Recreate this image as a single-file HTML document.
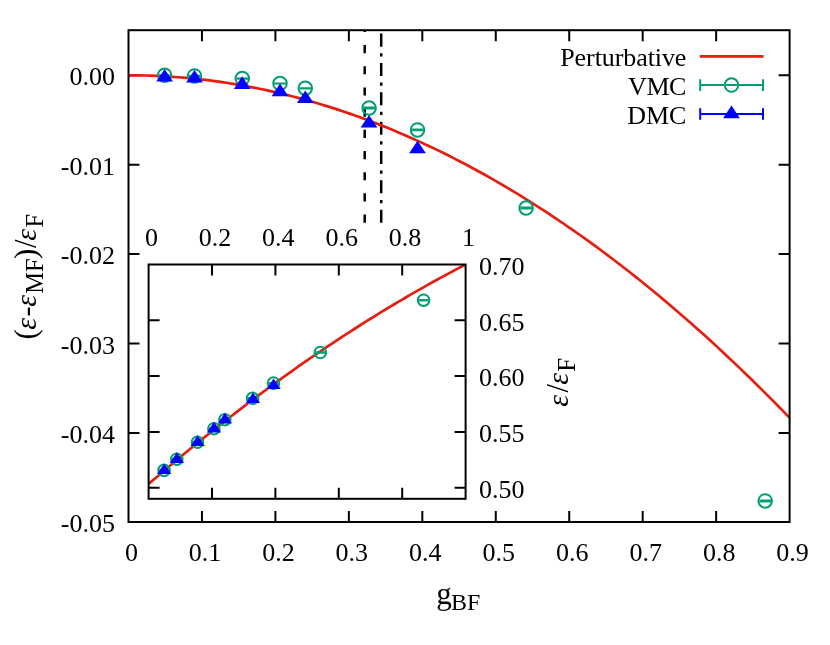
<!DOCTYPE html>
<html><head><meta charset="utf-8"><title>plot</title>
<style>html,body{margin:0;padding:0;background:#fff}svg{display:block;will-change:transform}text{font-family:"Liberation Serif",serif;fill:#000}</style></head>
<body>
<svg width="830" height="645" viewBox="0 0 830 645">
<rect width="830" height="645" fill="#fff"/>
<g stroke="#000" stroke-width="2" fill="none" stroke-linecap="butt">
<path d="M201.96 522.0 V511.0 M201.96 30.2 V41.2"/>
<path d="M275.41 522.0 V511.0 M275.41 30.2 V41.2"/>
<path d="M348.87 522.0 V511.0 M348.87 30.2 V41.2"/>
<path d="M422.32 522.0 V511.0 M422.32 30.2 V41.2"/>
<path d="M495.78 522.0 V511.0 M495.78 30.2 V41.2"/>
<path d="M569.23 522.0 V511.0 M569.23 30.2 V41.2"/>
<path d="M642.69 522.0 V511.0 M642.69 30.2 V41.2"/>
<path d="M716.14 522.0 V511.0 M716.14 30.2 V41.2"/>
<path d="M128.5 75.30 H139.5 M789.6 75.30 H778.6"/>
<path d="M128.5 164.70 H139.5 M789.6 164.70 H778.6"/>
<path d="M128.5 254.10 H139.5 M789.6 254.10 H778.6"/>
<path d="M128.5 343.50 H139.5 M789.6 343.50 H778.6"/>
<path d="M128.5 432.90 H139.5 M789.6 432.90 H778.6"/>
</g>
<g font-size="26" text-anchor="middle">
<text x="131.50" y="561">0</text>
<text x="204.96" y="561">0.1</text>
<text x="278.41" y="561">0.2</text>
<text x="351.87" y="561">0.3</text>
<text x="425.32" y="561">0.4</text>
<text x="498.78" y="561">0.5</text>
<text x="572.23" y="561">0.6</text>
<text x="645.69" y="561">0.7</text>
<text x="719.14" y="561">0.8</text>
<text x="792.60" y="561">0.9</text>
</g>
<g font-size="26" text-anchor="end">
<text x="115" y="85.30">0.00</text>
<text x="115" y="174.70">-0.01</text>
<text x="115" y="264.10">-0.02</text>
<text x="115" y="353.50">-0.03</text>
<text x="115" y="442.90">-0.04</text>
<text x="115" y="532.30">-0.05</text>
</g>
<path d="M364.7 222.7 V30.2" stroke="#000" stroke-width="2.5" stroke-dasharray="8.15 13.04" fill="none"/>
<path d="M381.2 222.7 V30.2" stroke="#000" stroke-width="2.5" stroke-dasharray="13.04 6.52 3.26 6.52" fill="none"/>
<path d="M128.50 75.30 L134.01 75.32 L139.52 75.40 L145.03 75.51 L150.54 75.68 L156.05 75.89 L161.56 76.16 L167.06 76.47 L172.57 76.82 L178.08 77.23 L183.59 77.68 L189.10 78.18 L194.61 78.73 L200.12 79.32 L205.63 79.96 L211.14 80.65 L216.65 81.39 L222.16 82.17 L227.66 83.01 L233.17 83.89 L238.68 84.81 L244.19 85.79 L249.70 86.81 L255.21 87.88 L260.72 89.00 L266.23 90.17 L271.74 91.38 L277.25 92.64 L282.76 93.95 L288.27 95.30 L293.77 96.71 L299.28 98.16 L304.79 99.66 L310.30 101.20 L315.81 102.80 L321.32 104.44 L326.83 106.13 L332.34 107.86 L337.85 109.65 L343.36 111.48 L348.87 113.36 L354.38 115.28 L359.89 117.26 L365.39 119.28 L370.90 121.35 L376.41 123.47 L381.92 125.63 L387.43 127.84 L392.94 130.10 L398.45 132.41 L403.96 134.76 L409.47 137.17 L414.98 139.62 L420.49 142.11 L426.00 144.66 L431.50 147.25 L437.01 149.89 L442.52 152.58 L448.03 155.32 L453.54 158.10 L459.05 160.93 L464.56 163.81 L470.07 166.73 L475.58 169.71 L481.09 172.73 L486.60 175.80 L492.11 178.91 L497.61 182.08 L503.12 185.29 L508.63 188.55 L514.14 191.85 L519.65 195.21 L525.16 198.61 L530.67 202.06 L536.18 205.55 L541.69 209.10 L547.20 212.69 L552.71 216.33 L558.22 220.01 L563.72 223.75 L569.23 227.53 L574.74 231.36 L580.25 235.24 L585.76 239.16 L591.27 243.13 L596.78 247.15 L602.29 251.22 L607.80 255.34 L613.31 259.50 L618.82 263.71 L624.33 267.97 L629.83 272.27 L635.34 276.62 L640.85 281.03 L646.36 285.47 L651.87 289.97 L657.38 294.51 L662.89 299.10 L668.40 303.74 L673.91 308.43 L679.42 313.16 L684.93 317.94 L690.44 322.77 L695.94 327.65 L701.45 332.57 L706.96 337.54 L712.47 342.56 L717.98 347.63 L723.49 352.74 L729.00 357.90 L734.51 363.11 L740.02 368.37 L745.53 373.67 L751.04 379.02 L756.55 384.42 L762.05 389.87 L767.56 395.36 L773.07 400.91 L778.58 406.50 L784.09 412.13 L789.60 417.82" stroke="#e51e10" stroke-width="2.7" fill="none" stroke-linejoin="round"/>
<g stroke="#009e73" stroke-width="2" fill="none"><path d="M158.80 75.20 H170.40 M158.80 75.40 H170.40 M164.60 75.20 V75.40"/><circle cx="164.60" cy="75.30" r="6.75"/></g>
<g stroke="#009e73" stroke-width="2" fill="none"><path d="M188.70 75.80 H200.30 M188.70 76.00 H200.30 M194.50 75.80 V76.00"/><circle cx="194.50" cy="75.90" r="6.75"/></g>
<g stroke="#009e73" stroke-width="2" fill="none"><path d="M236.50 78.50 H248.10 M236.50 78.70 H248.10 M242.30 78.50 V78.70"/><circle cx="242.30" cy="78.60" r="6.75"/></g>
<g stroke="#009e73" stroke-width="2" fill="none"><path d="M274.20 83.40 H285.80 M274.20 83.60 H285.80 M280.00 83.40 V83.60"/><circle cx="280.00" cy="83.50" r="6.75"/></g>
<g stroke="#009e73" stroke-width="2" fill="none"><path d="M299.50 88.20 H311.10 M299.50 88.40 H311.10 M305.30 88.20 V88.40"/><circle cx="305.30" cy="88.30" r="6.75"/></g>
<g stroke="#009e73" stroke-width="2" fill="none"><path d="M363.30 107.55 H374.90 M363.30 108.45 H374.90 M369.10 107.55 V108.45"/><circle cx="369.10" cy="108.00" r="6.75"/></g>
<g stroke="#009e73" stroke-width="2" fill="none"><path d="M411.70 129.45 H423.30 M411.70 130.35 H423.30 M417.50 129.45 V130.35"/><circle cx="417.50" cy="129.90" r="6.75"/></g>
<g stroke="#009e73" stroke-width="2" fill="none"><path d="M520.30 207.55 H531.90 M520.30 208.45 H531.90 M526.10 207.55 V208.45"/><circle cx="526.10" cy="208.00" r="6.75"/></g>
<g stroke="#009e73" stroke-width="2" fill="none"><path d="M759.40 500.40 H771.00 M759.40 501.40 H771.00 M765.20 500.40 V501.40"/><circle cx="765.20" cy="500.90" r="6.75"/></g>
<path d="M164.60 69.02 L156.22 81.62 L172.98 81.62 Z" fill="#0000ff"/>
<path d="M194.50 70.02 L186.12 82.62 L202.88 82.62 Z" fill="#0000ff"/>
<path d="M242.20 76.32 L233.82 88.92 L250.58 88.92 Z" fill="#0000ff"/>
<path d="M280.00 83.62 L271.62 96.22 L288.38 96.22 Z" fill="#0000ff"/>
<path d="M305.30 90.42 L296.92 103.02 L313.68 103.02 Z" fill="#0000ff"/>
<path d="M369.00 115.02 L360.62 127.62 L377.38 127.62 Z" fill="#0000ff"/>
<path d="M417.50 140.72 L409.12 153.32 L425.88 153.32 Z" fill="#0000ff"/>
<g font-size="26" text-anchor="end"><text x="686.4" y="66" textLength="126.2">Perturbative</text><text x="686.4" y="95" textLength="58.3">VMC</text><text x="686.4" y="124">DMC</text></g>
<path d="M699.8 56.3 H763.6" stroke="#e51e10" stroke-width="2.7" fill="none"/>
<g stroke="#009e73" stroke-width="2" fill="none"><path d="M700.2 85.1 H763 M700.2 79.3 V90.9 M763 79.3 V90.9"/><circle cx="731.5" cy="85.1" r="6.75"/></g>
<g stroke="#0000ff" stroke-width="2" fill="none"><path d="M700.2 114 H763 M700.2 108.2 V119.8 M763 108.2 V119.8"/></g>
<path d="M731.50 105.62 L723.12 118.22 L739.88 118.22 Z" fill="#0000ff"/>
<g stroke="#000" stroke-width="2" fill="none">
<path d="M212.00 498.8 V487.8 M212.00 264.5 V275.5"/>
<path d="M275.40 498.8 V487.8 M275.40 264.5 V275.5"/>
<path d="M338.80 498.8 V487.8 M338.80 264.5 V275.5"/>
<path d="M402.20 498.8 V487.8 M402.20 264.5 V275.5"/>
<path d="M148.6 487.70 H159.6 M465.6 487.70 H454.6"/>
<path d="M148.6 431.90 H159.6 M465.6 431.90 H454.6"/>
<path d="M148.6 376.10 H159.6 M465.6 376.10 H454.6"/>
<path d="M148.6 320.30 H159.6 M465.6 320.30 H454.6"/>
</g>
<g font-size="26" text-anchor="middle">
<text x="151.50" y="245.6">0</text>
<text x="214.90" y="245.6">0.2</text>
<text x="278.30" y="245.6">0.4</text>
<text x="341.70" y="245.6">0.6</text>
<text x="405.10" y="245.6">0.8</text>
<text x="468.50" y="245.6">1</text>
</g>
<g font-size="26" text-anchor="start">
<text x="479" y="498.00">0.50</text>
<text x="479" y="442.20">0.55</text>
<text x="479" y="386.40">0.60</text>
<text x="479" y="330.60">0.65</text>
<text x="479" y="274.80">0.70</text>
</g>
<clipPath id="ic"><rect x="148.6" y="264.5" width="317.0" height="234.3"/></clipPath>
<path d="M148.60 484.02 L152.56 480.59 L156.53 477.18 L160.49 473.79 L164.45 470.42 L168.41 467.06 L172.38 463.72 L176.34 460.40 L180.30 457.09 L184.26 453.81 L188.22 450.54 L192.19 447.28 L196.15 444.05 L200.11 440.83 L204.07 437.63 L208.04 434.44 L212.00 431.28 L215.96 428.13 L219.93 424.99 L223.89 421.88 L227.85 418.78 L231.81 415.70 L235.78 412.64 L239.74 409.59 L243.70 406.56 L247.66 403.55 L251.62 400.56 L255.59 397.58 L259.55 394.62 L263.51 391.68 L267.48 388.75 L271.44 385.84 L275.40 382.95 L279.36 380.08 L283.32 377.22 L287.29 374.38 L291.25 371.56 L295.21 368.76 L299.17 365.97 L303.14 363.20 L307.10 360.45 L311.06 357.71 L315.02 354.99 L318.99 352.29 L322.95 349.61 L326.91 346.94 L330.88 344.30 L334.84 341.66 L338.80 339.05 L342.76 336.45 L346.73 333.87 L350.69 331.31 L354.65 328.76 L358.61 326.24 L362.58 323.72 L366.54 321.23 L370.50 318.75 L374.46 316.30 L378.42 313.85 L382.39 311.43 L386.35 309.02 L390.31 306.63 L394.27 304.26 L398.24 301.90 L402.20 299.56 L406.16 297.24 L410.12 294.94 L414.09 292.65 L418.05 290.38 L422.01 288.13 L425.98 285.90 L429.94 283.68 L433.90 281.48 L437.86 279.30 L441.83 277.13 L445.79 274.98 L449.75 272.85 L453.71 270.74 L457.67 268.64 L461.64 266.56 L465.60 264.50" stroke="#e51e10" stroke-width="2.7" fill="none" clip-path="url(#ic)"/>
<g stroke="#009e73" stroke-width="2" fill="none"><path d="M159.10 470.20 H169.10 M159.10 470.60 H169.10 M164.10 470.20 V470.60"/><circle cx="164.10" cy="470.40" r="5.8"/></g>
<g stroke="#009e73" stroke-width="2" fill="none"><path d="M171.80 459.00 H181.80 M171.80 459.40 H181.80 M176.80 459.00 V459.40"/><circle cx="176.80" cy="459.20" r="5.8"/></g>
<g stroke="#009e73" stroke-width="2" fill="none"><path d="M192.50 442.00 H202.50 M192.50 442.40 H202.50 M197.50 442.00 V442.40"/><circle cx="197.50" cy="442.20" r="5.8"/></g>
<g stroke="#009e73" stroke-width="2" fill="none"><path d="M208.90 428.50 H218.90 M208.90 428.90 H218.90 M213.90 428.50 V428.90"/><circle cx="213.90" cy="428.70" r="5.8"/></g>
<g stroke="#009e73" stroke-width="2" fill="none"><path d="M219.80 419.50 H229.80 M219.80 419.90 H229.80 M224.80 419.50 V419.90"/><circle cx="224.80" cy="419.70" r="5.8"/></g>
<g stroke="#009e73" stroke-width="2" fill="none"><path d="M247.60 398.10 H257.60 M247.60 398.50 H257.60 M252.60 398.10 V398.50"/><circle cx="252.60" cy="398.30" r="5.8"/></g>
<g stroke="#009e73" stroke-width="2" fill="none"><path d="M268.50 382.90 H278.50 M268.50 383.30 H278.50 M273.50 382.90 V383.30"/><circle cx="273.50" cy="383.10" r="5.8"/></g>
<g stroke="#009e73" stroke-width="2" fill="none"><path d="M315.30 352.30 H325.30 M315.30 352.70 H325.30 M320.30 352.30 V352.70"/><circle cx="320.30" cy="352.50" r="5.8"/></g>
<g stroke="#009e73" stroke-width="2" fill="none"><path d="M418.60 300.00 H428.60 M418.60 300.40 H428.60 M423.60 300.00 V300.40"/><circle cx="423.60" cy="300.20" r="5.8"/></g>
<path d="M164.20 463.38 L157.08 474.08 L171.32 474.08 Z" fill="#0000ff"/>
<path d="M176.90 452.18 L169.78 462.88 L184.02 462.88 Z" fill="#0000ff"/>
<path d="M197.60 435.18 L190.48 445.88 L204.72 445.88 Z" fill="#0000ff"/>
<path d="M214.00 421.68 L206.88 432.38 L221.12 432.38 Z" fill="#0000ff"/>
<path d="M224.90 412.68 L217.78 423.38 L232.02 423.38 Z" fill="#0000ff"/>
<path d="M253.00 392.38 L245.88 403.08 L260.12 403.08 Z" fill="#0000ff"/>
<path d="M273.60 378.38 L266.48 389.08 L280.72 389.08 Z" fill="#0000ff"/>
<rect x="148.6" y="264.5" width="317.00" height="234.30" fill="none" stroke="#000" stroke-width="2"/>
<rect x="128.5" y="30.2" width="661.10" height="491.80" fill="none" stroke="#000" stroke-width="2"/>
<text id="xt" x="458.4" y="604.0" font-size="31" text-anchor="middle">g<tspan font-size="24" dx="-0.7" dy="6.3">BF</tspan></text>
<g transform="translate(35.6 0) rotate(-90)"><text x="-339.40" y="0" font-size="31">(</text><text x="-329.65" y="0" font-size="30" font-style="italic">ε</text><text x="-316.60" y="0" font-size="30">-</text><text x="-306.65" y="0" font-size="30" font-style="italic">ε</text><text x="-293.75" y="7.1" font-size="24.5">MF</text><text x="-259.10" y="0" font-size="31">)</text><text x="-247.90" y="0" font-size="31">/</text><text x="-240.75" y="0" font-size="30" font-style="italic">ε</text><text x="-227.45" y="7.1" font-size="24.5">F</text></g>
<g transform="translate(567.5 0) rotate(-90)"><text x="-406.65" y="0" font-size="30" font-style="italic">ε</text><text x="-392.40" y="0" font-size="31">/</text><text x="-384.85" y="0" font-size="30" font-style="italic">ε</text><text x="-371.80" y="7.1" font-size="25">F</text></g>
</svg></body></html>
